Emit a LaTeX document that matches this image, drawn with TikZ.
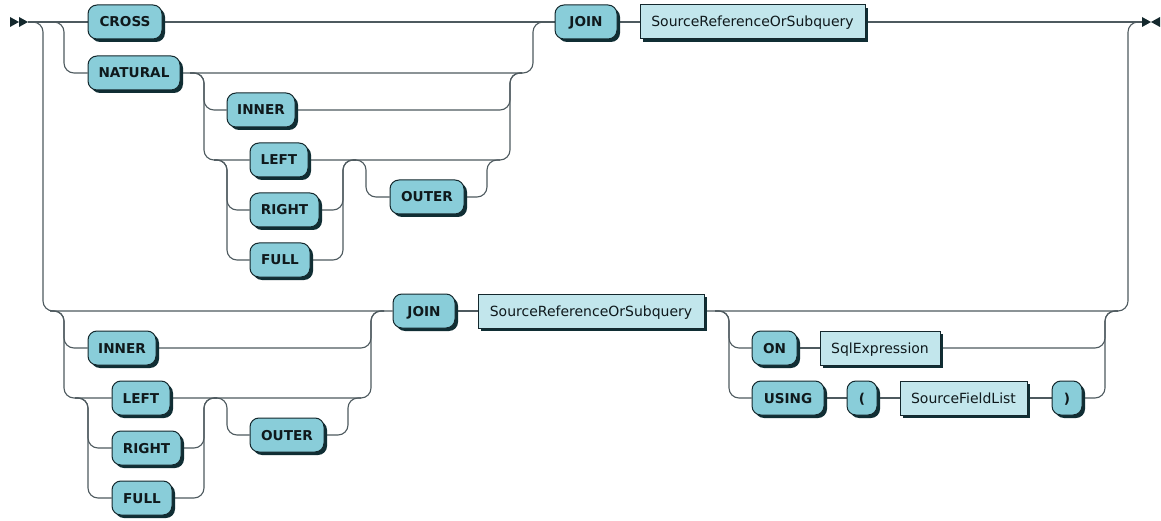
\documentclass[tikz,border=0pt]{standalone}
\usepackage{fontspec}
\setmainfont{DejaVu Sans}
\usetikzlibrary{shadows}
\pgfdeclarelayer{background}
\pgfsetlayers{background,main}
\definecolor{termfill}{RGB}{137,205,217}
\definecolor{ntfill}{RGB}{194,230,236}
\definecolor{shade}{RGB}{16,46,52}
\definecolor{edgecol}{RGB}{20,40,45}
\definecolor{railcol}{RGB}{78,90,95}
\definecolor{txtcol}{RGB}{15,25,28}
\begin{document}
\begin{tikzpicture}[x=1pt,y=-1pt,
  rail/.style={draw=railcol, line width=1.1pt, rounded corners=10pt},
  boxbase/.style={draw=edgecol, line width=1pt, minimum height=34pt, inner sep=0pt,
    text=txtcol, text height=10pt, text depth=0pt,
    general shadow={fill=shade, shadow xshift=3pt, shadow yshift=-3pt}},
  term/.style={boxbase, fill=termfill, rounded corners=9pt, font=\fontsize{13.6}{15}\selectfont\bfseries},
  nterm/.style={boxbase, fill=ntfill, font=\fontsize{14}{16}\selectfont},
  tipfill/.style={fill=edgecol}]
\useasboundingbox (0,0) rectangle (1161,521);

% nodes
\node[term, minimum width=74pt] (cross) at (125,22) {CROSS};
\node[term, minimum width=92pt] (natural) at (134,73) {NATURAL};
\node[term, minimum width=62pt] (join1) at (586,22) {JOIN};
\node[nterm, minimum width=225pt] (src1) at (752.5,22) {SourceReferenceOrSubquery};
\node[term, minimum width=68pt] (inner1) at (261,110) {INNER};
\node[term, minimum width=58pt] (left1) at (279,160) {LEFT};
\node[term, minimum width=69pt] (right1) at (284.5,210) {RIGHT};
\node[term, minimum width=60pt] (full1) at (280,260) {FULL};
\node[term, minimum width=74pt] (outer1) at (427,197) {OUTER};
\node[term, minimum width=62pt] (join2) at (424,311) {JOIN};
\node[nterm, minimum width=226pt] (src2) at (591,311) {SourceReferenceOrSubquery};
\node[term, minimum width=68pt] (inner2) at (122,348) {INNER};
\node[term, minimum width=58pt] (left2) at (141,398) {LEFT};
\node[term, minimum width=69pt] (right2) at (146.5,448) {RIGHT};
\node[term, minimum width=60pt] (full2) at (142,498) {FULL};
\node[term, minimum width=74pt] (outer2) at (287,435) {OUTER};
\node[term, minimum width=45pt] (on) at (774.5,348) {ON};
\node[nterm, minimum width=120pt] (sqlx) at (880,348) {SqlExpression};
\node[term, minimum width=72pt] (using) at (788,398) {USING};
\node[term, minimum width=30pt] (lp) at (862,398) {(};
\node[nterm, minimum width=127pt] (sfl) at (963.5,398) {SourceFieldList};
\node[term, minimum width=30pt] (rp) at (1067,398) {)};

\coordinate (st) at (28,22);
\coordinate (en) at (1142,22);

% start / end marks
\fill[tipfill] (10,17) -- (19,22) -- (10,27) -- cycle;
\fill[tipfill] (19,17) -- (28,22) -- (19,27) -- cycle;
\fill[tipfill] (1142,17) -- (1151,22) -- (1142,27) -- cycle;
\fill[tipfill] (1160,17) -- (1151,22) -- (1160,27) -- cycle;

\begin{pgfonlayer}{background}
\fill[white] (0,0) rectangle (1161,521);
% top section
\draw[rail] (st) -- (cross.west);
\draw[rail] (cross.east) -- (join1.west);
\draw[rail] (join1.east) -- (src1.west);
\draw[rail] (src1.east) -- (en);
\draw[rail] (st) -- (43,22) -- (43,311) -- (join2.west);
\draw[rail] (50,22) -- (64,22) -- (64,73) -- (natural.west);
\draw[rail] (natural.east) -- (533,73) -- (533,22) -- (547,22);
\draw[rail] (190,73) -- (204,73) -- (204,110) -- (inner1.west);
\draw[rail] (inner1.east) -- (510,110) -- (510,73) -- (522,73);
\draw[rail] (190,73) -- (204,73) -- (204,160) -- (left1.west);
\draw[rail] (left1.east) -- (510,160) -- (510,73) -- (522,73);
\draw[rail] (214,160) -- (227,160) -- (227,210) -- (right1.west);
\draw[rail] (right1.east) -- (343,210) -- (343,160) -- (356,160);
\draw[rail] (214,160) -- (227,160) -- (227,260) -- (full1.west);
\draw[rail] (full1.east) -- (343,260) -- (343,160) -- (356,160);
\draw[rail] (353,160) -- (366,160) -- (366,197) -- (outer1.west);
\draw[rail] (outer1.east) -- (487,197) -- (487,160) -- (500,160);
% lower section
\draw[rail] (50,311) -- (64,311) -- (64,348) -- (inner2.west);
\draw[rail] (inner2.east) -- (371,348) -- (371,311) -- (384,311);
\draw[rail] (50,311) -- (64,311) -- (64,398) -- (left2.west);
\draw[rail] (left2.east) -- (371,398) -- (371,311) -- (384,311);
\draw[rail] (75,398) -- (88,398) -- (88,448) -- (right2.west);
\draw[rail] (right2.east) -- (204,448) -- (204,398) -- (217,398);
\draw[rail] (75,398) -- (88,398) -- (88,498) -- (full2.west);
\draw[rail] (full2.east) -- (204,498) -- (204,398) -- (217,398);
\draw[rail] (214,398) -- (227,398) -- (227,435) -- (outer2.west);
\draw[rail] (outer2.east) -- (348,435) -- (348,398) -- (361,398);
\draw[rail] (join2.east) -- (src2.west);
\draw[rail] (src2.east) -- (1128,311) -- (1128,22) -- (en);
\draw[rail] (715,311) -- (729,311) -- (729,348) -- (on.west);
\draw[rail] (on.east) -- (sqlx.west);
\draw[rail] (sqlx.east) -- (1105,348) -- (1105,311) -- (1118,311);
\draw[rail] (715,311) -- (729,311) -- (729,398) -- (using.west);
\draw[rail] (using.east) -- (lp.west);
\draw[rail] (lp.east) -- (sfl.west);
\draw[rail] (sfl.east) -- (rp.west);
\draw[rail] (rp.east) -- (1105,398) -- (1105,311) -- (1118,311);
\end{pgfonlayer}
\end{tikzpicture}
\end{document}
